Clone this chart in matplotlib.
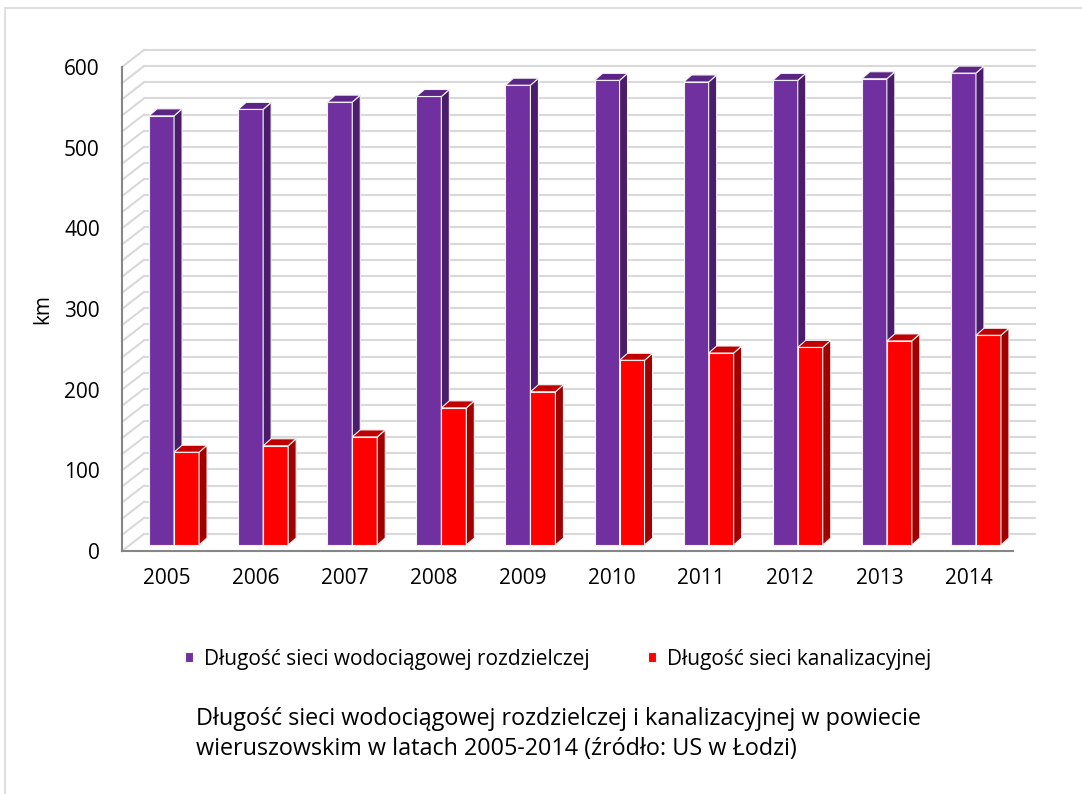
import numpy as np
import matplotlib.pyplot as plt
from matplotlib.patches import Polygon, Rectangle

plt.rcParams['font.family'] = ['Open Sans', 'DejaVu Sans']

years = ['2005', '2006', '2007', '2008', '2009', '2010', '2011', '2012', '2013', '2014']
water = [532, 540, 549, 556, 570, 576, 574, 576, 578, 585]
sewer = [115, 123, 134, 170, 190, 229, 238, 245, 253, 260]
yticks = [0, 100, 200, 300, 400, 500, 600]

label_water = 'Długość sieci wodociągowej rozdzielczej'
label_sewer = 'Długość sieci kanalizacyjnej'
title = ('Długość sieci wodociągowej rozdzielczej i kanalizacyjnej w powiecie\n'
         'wieruszowskim w latach 2005-2014 (źródło: US w Łodzi)')

W, H = 1082, 794
fig = plt.figure(figsize=(W / 100, H / 100), dpi=100)

# outer frame (only left/top visible in the reference)
fig.patches.append(Rectangle((5 / W, -0.05), 1.2, 1 - 8 / H + 0.05,
                             transform=fig.transFigure, fill=False,
                             edgecolor='#d9d9d9', linewidth=1.2))

# front plane of the plot area in pixels
x0, x1, yb, yt = 122, 1013, 551, 67
ax = fig.add_axes([x0 / W, (H - yb) / H, (x1 - x0) / W, (yb - yt) / H])
ax.set_xlim(-0.5, 9.5)
ax.set_ylim(0, 600)
kx = (x1 - x0) / 10.0
ky = (yb - yt) / 600.0


def off(px, py):
    # pixel offset -> data offset (py positive = up)
    return px / kx, py / ky


# back wall / floor gridlines
wdx, wdy = off(22, 17)
grid_c = '#d9d9d9'
for g in range(0, 601, 20):
    ax.plot([-0.5 + wdx, 9.5 + wdx], [g + wdy, g + wdy], color=grid_c,
            lw=1.5, clip_on=False, zorder=1)
    ax.plot([-0.5, -0.5 + wdx], [g, g + wdy], color=grid_c,
            lw=1.5, clip_on=False, zorder=1)

# bars with fake depth
fdx, fdy = off(7.5, 6)
bdx, bdy = off(15.5, 13)
w = 25 / kx
x = np.arange(len(years))

series = [
    (water, -w, '#7030a0', '#5b2586', '#4a1d6b', label_water),
    (sewer, 0.0, '#ff0000', '#c00000', '#a00000', label_sewer),
]
handles = []
for i in range(len(years)):
    for vals, shift, c_front, c_top, c_side, lab in series:
        v = vals[i]
        left = i + shift + fdx
        right = left + w
        b = ax.bar(left, v, width=w, bottom=fdy, align='edge', color=c_front,
                   edgecolor='#f2f2f2', linewidth=0.8, zorder=3,
                   label=lab if i == 0 else None)
        if i == 0:
            handles.append(b)
        top = Polygon([(left, v + fdy), (right, v + fdy),
                       (right + bdx - fdx, v + bdy), (left + bdx - fdx, v + bdy)],
                      closed=True, facecolor=c_top, edgecolor='#f2f2f2',
                      linewidth=0.8, zorder=3, clip_on=False)
        side = Polygon([(right, fdy), (right, v + fdy),
                        (right + bdx - fdx, v + bdy), (right + bdx - fdx, bdy)],
                       closed=True, facecolor=c_side, edgecolor='#f2f2f2',
                       linewidth=0.8, zorder=3, clip_on=False)
        ax.add_patch(side)
        ax.add_patch(top)

for s in ['top', 'right']:
    ax.spines[s].set_visible(False)
for s in ['left', 'bottom']:
    ax.spines[s].set_color('#868686')
    ax.spines[s].set_linewidth(1.5)
    ax.spines[s].set_zorder(5)
ax.patch.set_alpha(0)

ax.set_yticks(yticks)
ax.set_yticklabels([str(t) for t in yticks])
ax.set_xticks(x)
ax.set_xticklabels(years)
ax.tick_params(axis='both', length=0, labelsize=15)
ax.tick_params(axis='y', pad=16)
ax.tick_params(axis='x', pad=12)
ax.set_ylabel('km', fontsize=15, labelpad=8)

fig.legend(handles=handles, labels=[label_water, label_sewer], ncol=2,
           loc='center', bbox_to_anchor=(558 / W, 1 - 659 / H), frameon=False,
           fontsize=15, handlelength=0.4, handleheight=0.4, handletextpad=0.5,
           columnspacing=2.8)

fig.text(196 / W, 1 - 734 / H, title, fontsize=16.8, ha='left', va='center',
         linespacing=1.32)

fig.savefig('out.png', dpi=100)
